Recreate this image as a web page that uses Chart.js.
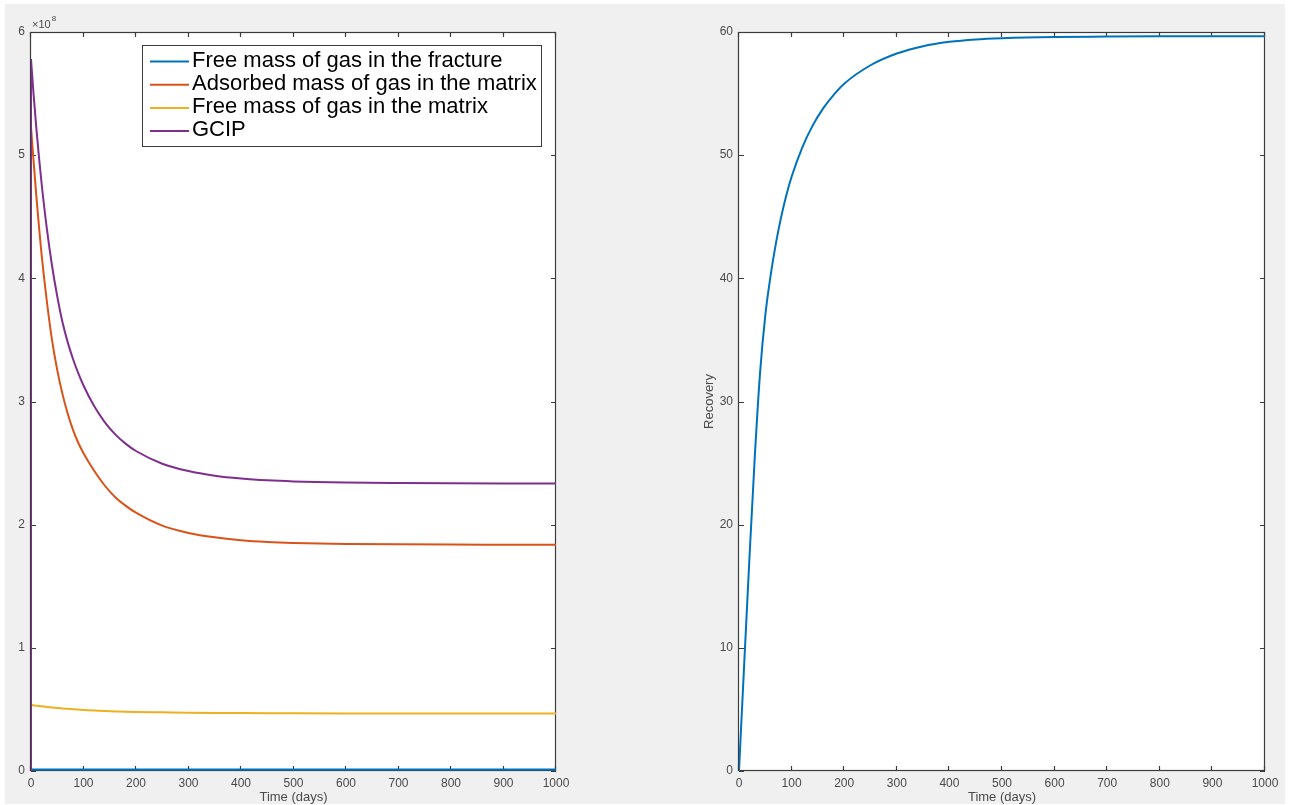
<!DOCTYPE html>
<html>
<head>
<meta charset="utf-8">
<title>Gas mass and recovery</title>
<script src="https://cdn.jsdelivr.net/npm/chart.js@4/dist/chart.umd.min.js"></script>
<style>
  html, body { margin: 0; padding: 0; width: 1290px; height: 805px; background: #ffffff; overflow: hidden; }
  #fig { position: absolute; left: 5px; top: 4px; width: 1280px; height: 800px; background: #f0f0f0; }
  .pane { position: absolute; top: 0; height: 805px; }
  #massPane { left: 0; width: 650px; }
  #recPane { left: 650px; width: 640px; }
</style>
</head>
<body>
<div id="fig"></div>
<div class="pane" id="massPane"><canvas id="massChart"></canvas></div>
<div class="pane" id="recPane"><canvas id="recChart"></canvas></div>
<script>
// Simulation time (days)
const days = [0, 2, 5, 10, 15, 20, 30, 40, 50, 60, 70, 80, 90, 100, 120, 140, 160, 180, 200,
              250, 300, 350, 400, 450, 500, 600, 700, 800, 900, 1000];

// Gas masses, in units of 1e8
const fractureFree = [0.013, 0.013, 0.013, 0.013, 0.013, 0.013, 0.013, 0.013, 0.013, 0.012,
                      0.012, 0.012, 0.012, 0.012, 0.012, 0.012, 0.012, 0.012, 0.012, 0.012,
                      0.012, 0.012, 0.012, 0.012, 0.012, 0.012, 0.012, 0.012, 0.012, 0.012];
const matrixAdsorbed = [5.231, 5.113, 4.950, 4.675, 4.430, 4.200, 3.820, 3.500, 3.255, 3.060,
                        2.900, 2.770, 2.665, 2.580, 2.440, 2.320, 2.225, 2.155, 2.097, 1.992,
                        1.933, 1.897, 1.874, 1.860, 1.852, 1.844, 1.840, 1.838, 1.837, 1.836];
const matrixFree = [0.536, 0.535, 0.533, 0.530, 0.528, 0.525, 0.520, 0.516, 0.512, 0.508,
                    0.505, 0.502, 0.499, 0.496, 0.491, 0.487, 0.484, 0.481, 0.479, 0.476,
                    0.473, 0.471, 0.470, 0.469, 0.468, 0.467, 0.467, 0.466, 0.466, 0.466];
const gcip = [5.780, 5.661, 5.490, 5.228, 4.992, 4.778, 4.409, 4.104, 3.853, 3.643,
              3.480, 3.345, 3.230, 3.130, 2.965, 2.835, 2.735, 2.658, 2.598, 2.495,
              2.435, 2.398, 2.375, 2.360, 2.351, 2.342, 2.338, 2.336, 2.335, 2.335];
// Recovery (%)
const recovery = [0, 1.8, 4.4, 8.8, 13.1, 17.4, 25.5, 32.3, 37.0, 40.2,
                  42.8, 44.95, 46.75, 48.25, 50.6, 52.4, 53.8, 54.9, 55.8, 57.3,
                  58.25, 58.85, 59.2, 59.4, 59.5, 59.6, 59.63, 59.65, 59.66, 59.66];

// Axis tick settings
const timeTicks = { min: 0, max: 1000, step: 100 };
const massTicks = { min: 0, max: 6, step: 1 };
const recoveryTicks = { min: 0, max: 60, step: 10 };
const massExponent = '8';

const seriesNames = ['Free mass of gas in the fracture', 'Adsorbed mass of gas in the matrix',
                     'Free mass of gas in the matrix', 'GCIP'];
const seriesColors = ['#0072BD', '#D95319', '#EDB120', '#7E2F8E'];

const FONT = "'Liberation Sans', Arial, Helvetica, sans-serif";
const TEXT = '#4a4a4a';
const AXIS = '#3c3c3c';
Chart.defaults.font.family = FONT;

const pts = (ys) => days.map((d, i) => ({ x: d, y: ys[i] }));

// White axes background, box outline and inward tick marks on all four sides
const axesFrame = {
  id: 'axesFrame',
  beforeDatasetsDraw(chart) {
    const { ctx, chartArea: a, scales } = chart;
    ctx.save();
    ctx.fillStyle = '#ffffff';
    ctx.fillRect(a.left, a.top, a.right - a.left, a.bottom - a.top);
    ctx.strokeStyle = AXIS;
    ctx.lineWidth = 1.2;
    ctx.strokeRect(a.left - 0.5, a.top + 0.5, a.right - a.left, a.bottom - a.top - 1);
    const len = 5;
    ctx.beginPath();
    scales.x.ticks.forEach(t => {
      const px = Math.round(scales.x.getPixelForValue(t.value)) - 0.5;
      ctx.moveTo(px, a.bottom); ctx.lineTo(px, a.bottom - len);
      ctx.moveTo(px, a.top); ctx.lineTo(px, a.top + len);
    });
    scales.y.ticks.forEach(t => {
      const py = Math.round(scales.y.getPixelForValue(t.value)) + 0.5;
      ctx.moveTo(a.left, py); ctx.lineTo(a.left + len, py);
      ctx.moveTo(a.right, py); ctx.lineTo(a.right - len, py);
    });
    ctx.stroke();
    ctx.restore();
  }
};

// Boxed legend inside the axes, upper right
const boxedLegend = {
  id: 'boxedLegend',
  afterDatasetsDraw(chart) {
    const { ctx, chartArea: a } = chart;
    const x0 = a.left + 111, y0 = a.top + 13, w = 399, h = 101;
    ctx.save();
    ctx.fillStyle = '#ffffff';
    ctx.fillRect(x0, y0, w, h);
    ctx.strokeStyle = AXIS;
    ctx.lineWidth = 1;
    ctx.strokeRect(x0 + 0.5, y0 + 0.5, w, h);
    ctx.font = '22px ' + FONT;
    ctx.textBaseline = 'alphabetic';
    ctx.fillStyle = '#000000';
    seriesNames.forEach((name, i) => {
      const base = y0 + 21.5 + i * 23.2;
      ctx.strokeStyle = seriesColors[i];
      ctx.lineWidth = 2;
      ctx.beginPath();
      ctx.moveTo(x0 + 8, base - 5);
      ctx.lineTo(x0 + 47, base - 5);
      ctx.stroke();
      ctx.fillText(name, x0 + 50, base);
    });
    ctx.restore();
  }
};

// "x10^8" multiplier above the y axis
const exponentLabel = {
  id: 'exponentLabel',
  afterDraw(chart) {
    const { ctx, chartArea: a } = chart;
    ctx.save();
    ctx.fillStyle = TEXT;
    ctx.textBaseline = 'alphabetic';
    ctx.font = '11px ' + FONT;
    ctx.fillText('\u00d710', a.left + 1, a.top - 4);
    const w = ctx.measureText('\u00d710').width;
    ctx.font = '8px ' + FONT;
    ctx.fillText(massExponent, a.left + 2 + w, a.top - 11);
    ctx.restore();
  }
};

const plainTick = (v) => String(v);

function axisOptions(yTicks, yWidth, yTitle) {
  return {
    x: {
      type: 'linear', min: timeTicks.min, max: timeTicks.max,
      ticks: { stepSize: timeTicks.step, padding: 5, color: TEXT, font: { size: 12 }, maxRotation: 0, autoSkip: false, callback: plainTick },
      grid: { display: false, drawTicks: false },
      border: { display: false },
      title: { display: true, text: 'Time (days)', color: TEXT, font: { size: 13 }, padding: { top: 0, bottom: 0 } },
      afterFit(s) { s.height = 34; }
    },
    y: {
      type: 'linear', min: yTicks.min, max: yTicks.max,
      ticks: { stepSize: yTicks.step, padding: 6, color: TEXT, font: { size: 12 }, autoSkip: false, callback: plainTick },
      grid: { display: false, drawTicks: false },
      border: { display: false },
      title: yTitle ? { display: true, text: yTitle, color: TEXT, font: { size: 13 }, padding: { top: 52, bottom: 0 } } : { display: false },
      afterFit(s) { s.width = yWidth; }
    }
  };
}

const common = {
  responsive: true,
  maintainAspectRatio: false,
  animation: false,
  plugins: { legend: { display: false }, tooltip: { enabled: false } },
  elements: { point: { radius: 0 }, line: { borderWidth: 2, cubicInterpolationMode: 'monotone' } }
};

new Chart(document.getElementById('massChart'), {
  type: 'line',
  data: {
    datasets: [
      { label: seriesNames[0], data: pts(fractureFree), borderColor: seriesColors[0], order: 4 },
      { label: seriesNames[1], data: pts(matrixAdsorbed), borderColor: seriesColors[1], order: 3 },
      { label: seriesNames[2], data: pts(matrixFree), borderColor: seriesColors[2], order: 2 },
      { label: seriesNames[3], data: pts(gcip), borderColor: seriesColors[3], order: 1 },
      // jump from the empty initial state to the initial gas in place
      { label: 'GCIP start', data: [{ x: days[0], y: 0 }, { x: days[0], y: gcip[0] }],
        borderColor: seriesColors[3], cubicInterpolationMode: 'default', tension: 0, order: 0 }
    ]
  },
  options: Object.assign({}, common, {
    layout: { padding: { left: 0, top: 32, right: 94, bottom: 0 } },
    scales: axisOptions(massTicks, 31, null)
  }),
  plugins: [axesFrame, boxedLegend, exponentLabel]
});

new Chart(document.getElementById('recChart'), {
  type: 'line',
  data: {
    datasets: [
      { label: 'Recovery', data: pts(recovery), borderColor: seriesColors[0] }
    ]
  },
  options: Object.assign({}, common, {
    layout: { padding: { left: 0, top: 32, right: 25, bottom: 0 } },
    scales: axisOptions(recoveryTicks, 89, 'Recovery')
  }),
  plugins: [axesFrame]
});
</script>
</body>
</html>
